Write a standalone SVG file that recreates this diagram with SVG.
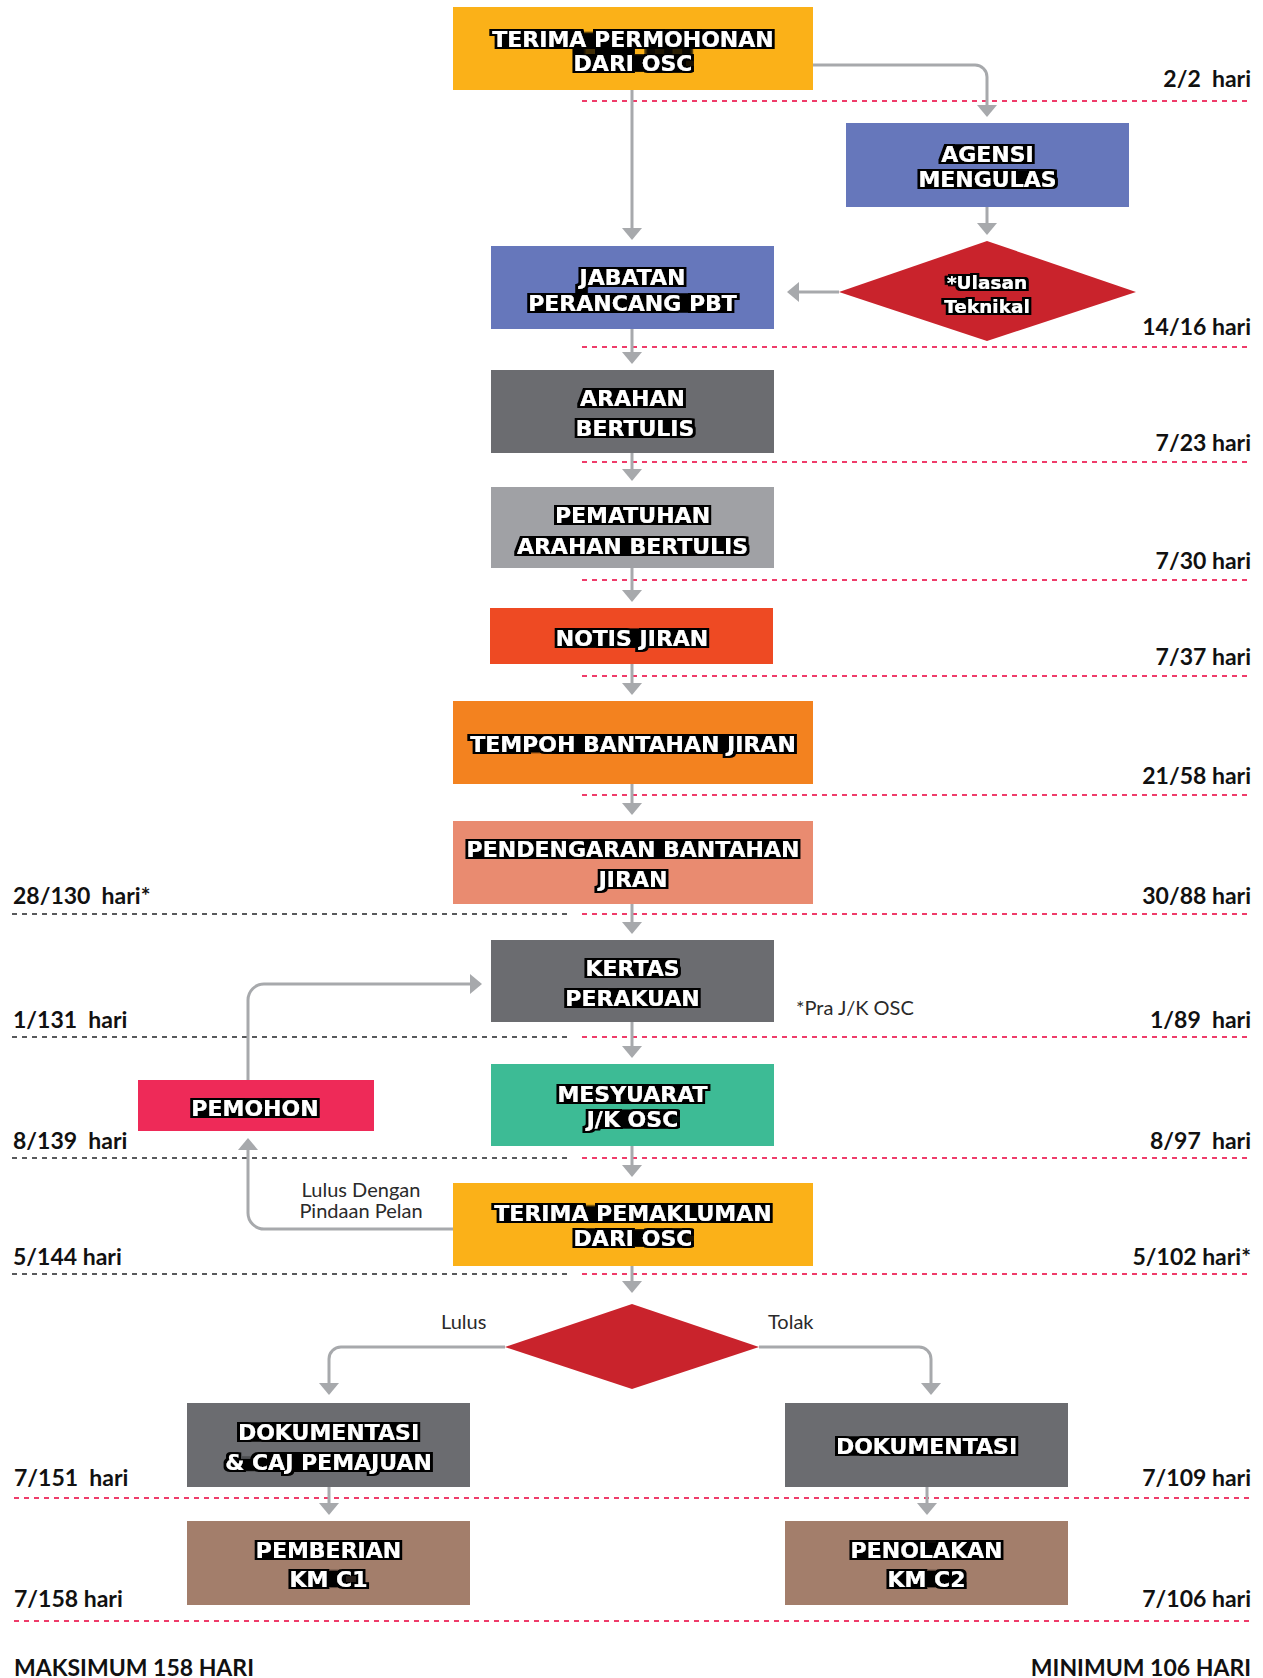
<svg xmlns="http://www.w3.org/2000/svg" width="1263" height="1678" viewBox="0 0 1263 1678">
  <defs>
    <style>
      .box text { font-family: "DejaVu Sans", sans-serif; font-weight: bold; font-size: 22px; fill: #fff; text-anchor: middle; filter: url(#hl); }
      .box text.sm { font-size: 18.5px; }
      .lbl { font-family: Lato, "Liberation Sans", sans-serif; font-weight: 700; font-size: 23px; fill: #111; white-space: pre; }
      .end { text-anchor: end; }
      .note { font-family: Lato, "Liberation Sans", sans-serif; font-weight: 400; font-size: 20px; fill: #2a2a2a; }
      .big { font-size: 23px; }
      .red { stroke: #EF3C6A; stroke-width: 2; stroke-dasharray: 5 5; fill: none; }
      .dark { stroke: #58595B; stroke-width: 2; stroke-dasharray: 5 5; fill: none; }
      .conn { fill: none; stroke: #A7A9AC; stroke-width: 3; marker-end: url(#ah); }
      .yellow { fill: #FBB118; }
      .blue { fill: #6677BB; }
      .crimson { fill: #C9232C; }
      .dgray { fill: #6B6C70; }
      .lgray { fill: #A0A1A5; }
      .vermil { fill: #EE4A23; }
      .orange { fill: #F3821F; }
      .salmon { fill: #E98B70; }
      .pink { fill: #EE2A58; }
      .green { fill: #3DBB95; }
      .brown { fill: #A37E6B; }
    </style>
    <!-- black highlight band behind white label text -->
    <filter id="hl" x="-10%" y="-40%" width="120%" height="180%">
      <feMorphology in="SourceAlpha" operator="dilate" radius="7 4" result="d"/>
      <feMorphology in="d" operator="erode" radius="4 2" result="e"/>
      <feFlood flood-color="#000" result="k"/>
      <feComposite in="k" in2="e" operator="in" result="bg"/>
      <feMerge><feMergeNode in="bg"/><feMergeNode in="SourceGraphic"/></feMerge>
    </filter>
    <marker id="ah" viewBox="0 0 12 20" refX="0" refY="10" markerWidth="12" markerHeight="20" markerUnits="userSpaceOnUse" orient="auto">
      <path d="M0,0 L12,10 L0,20 z" fill="#A7A9AC"/>
    </marker>
  </defs>

  <rect width="1263" height="1678" fill="#fff"/>

  <!-- time rulers -->
  <g id="rulers">
    <path class="red" d="M582,101 H1250 M582,347 H1250 M582,462 H1250 M582,580 H1250 M582,676 H1250 M582,795 H1250 M582,914 H1250 M582,1037 H1250 M582,1158 H1250 M582,1274 H1250"/>
    <path class="dark" d="M12,914 H570 M12,1037 H570 M12,1158 H570 M12,1274 H570"/>
    <path class="red" d="M14,1498 H1250 M14,1621 H1250"/>
  </g>

  <!-- connectors -->
  <g id="connectors">
    <path class="conn" d="M632,90 V228"/>
    <path class="conn" d="M813,65 H975 A12,12 0 0 1 987,77 V105"/>
    <path class="conn" d="M987,207 V223"/>
    <path class="conn" d="M839,292 H799"/>
    <path class="conn" d="M632,329 V352"/>
    <path class="conn" d="M632,453 V469"/>
    <path class="conn" d="M632,568 V590"/>
    <path class="conn" d="M632,664 V683"/>
    <path class="conn" d="M632,784 V803"/>
    <path class="conn" d="M632,904 V922"/>
    <path class="conn" d="M632,1022 V1046"/>
    <path class="conn" d="M632,1146 V1165"/>
    <path class="conn" d="M632,1266 V1281"/>
    <path class="conn" d="M505,1347 H341 A12,12 0 0 0 329,1359 V1383"/>
    <path class="conn" d="M759,1347 H919 A12,12 0 0 1 931,1359 V1383"/>
    <path class="conn" d="M329,1487 V1503"/>
    <path class="conn" d="M927,1487 V1503"/>
    <path class="conn" d="M248,1080 V1000 A16,16 0 0 1 264,984 H470"/>
    <path class="conn" d="M453,1229 H264 A16,16 0 0 1 248,1213 V1150"/>
  </g>

  <!-- process nodes -->
  <g id="terima-permohonan" class="box">
    <rect class="yellow" x="453" y="7" width="360" height="83"/>
    <text x="633"><tspan x="633" y="47">TERIMA PERMOHONAN</tspan><tspan x="633" y="71">DARI OSC</tspan></text>
  </g>
  <g id="agensi-mengulas" class="box">
    <rect class="blue" x="846" y="123" width="283" height="84"/>
    <text x="987.5"><tspan x="987.5" y="162">AGENSI</tspan><tspan x="987.5" y="187">MENGULAS</tspan></text>
  </g>
  <g id="ulasan-teknikal" class="box">
    <polygon class="crimson" points="987,241 1136,292 987,341 839,292"/>
    <text class="sm" x="987"><tspan x="987" y="289">*Ulasan</tspan><tspan x="987" y="313">Teknikal</tspan></text>
  </g>
  <g id="jabatan-perancang" class="box">
    <rect class="blue" x="491" y="246" width="283" height="83"/>
    <text x="632.5"><tspan x="632.5" y="285">JABATAN</tspan><tspan x="632.5" y="311">PERANCANG PBT</tspan></text>
  </g>
  <g id="arahan-bertulis" class="box">
    <rect class="dgray" x="491" y="370" width="283" height="83"/>
    <text x="632.5"><tspan x="632.5" y="406">ARAHAN</tspan><tspan x="635" y="436">BERTULIS</tspan></text>
  </g>
  <g id="pematuhan" class="box">
    <rect class="lgray" x="491" y="487" width="283" height="81"/>
    <text x="632.5"><tspan x="632.5" y="523">PEMATUHAN</tspan><tspan x="632.5" y="554">ARAHAN BERTULIS</tspan></text>
  </g>
  <g id="notis-jiran" class="box">
    <rect class="vermil" x="490" y="608" width="283" height="56"/>
    <text x="632" y="646">NOTIS JIRAN</text>
  </g>
  <g id="tempoh-bantahan" class="box">
    <rect class="orange" x="453" y="701" width="360" height="83"/>
    <text x="633" y="752">TEMPOH BANTAHAN JIRAN</text>
  </g>
  <g id="pendengaran-bantahan" class="box">
    <rect class="salmon" x="453" y="821" width="360" height="83"/>
    <text x="633"><tspan x="633" y="857">PENDENGARAN BANTAHAN</tspan><tspan x="633" y="887">JIRAN</tspan></text>
  </g>
  <g id="kertas-perakuan" class="box">
    <rect class="dgray" x="491" y="940" width="283" height="82"/>
    <text x="632.5"><tspan x="632.5" y="976">KERTAS</tspan><tspan x="632.5" y="1006">PERAKUAN</tspan></text>
  </g>
  <g id="pemohon" class="box">
    <rect class="pink" x="138" y="1080" width="236" height="51"/>
    <text x="255" y="1116">PEMOHON</text>
  </g>
  <g id="mesyuarat" class="box">
    <rect class="green" x="491" y="1064" width="283" height="82"/>
    <text x="632.5"><tspan x="632.5" y="1102">MESYUARAT</tspan><tspan x="632.5" y="1127">J/K OSC</tspan></text>
  </g>
  <g id="terima-pemakluman" class="box">
    <rect class="yellow" x="453" y="1183" width="360" height="83"/>
    <text x="633"><tspan x="633" y="1221">TERIMA PEMAKLUMAN</tspan><tspan x="633" y="1246">DARI OSC</tspan></text>
  </g>
  <g id="keputusan" class="box">
    <polygon class="crimson" points="632,1304 759,1347 632,1389 505,1347"/>
  </g>
  <g id="dokumentasi-caj" class="box">
    <rect class="dgray" x="187" y="1403" width="283" height="84"/>
    <text x="328.5"><tspan x="328.5" y="1440">DOKUMENTASI</tspan><tspan x="328.5" y="1470">&amp; CAJ PEMAJUAN</tspan></text>
  </g>
  <g id="dokumentasi" class="box">
    <rect class="dgray" x="785" y="1403" width="283" height="84"/>
    <text x="926.5" y="1454">DOKUMENTASI</text>
  </g>
  <g id="pemberian-kmc1" class="box">
    <rect class="brown" x="187" y="1521" width="283" height="84"/>
    <text x="328.5"><tspan x="328.5" y="1558">PEMBERIAN</tspan><tspan x="328.5" y="1587">KM C1</tspan></text>
  </g>
  <g id="penolakan-kmc2" class="box">
    <rect class="brown" x="785" y="1521" width="283" height="84"/>
    <text x="926.5"><tspan x="926.5" y="1558">PENOLAKAN</tspan><tspan x="926.5" y="1587">KM C2</tspan></text>
  </g>

  <!-- connector notes -->
  <g id="notes">
    <text class="note" x="361" y="1197" text-anchor="middle">Lulus Dengan</text>
    <text class="note" x="361" y="1218" text-anchor="middle">Pindaan Pelan</text>
    <text class="note" x="441" y="1329">Lulus</text>
    <text class="note" x="768" y="1329">Tolak</text>
    <text class="note" x="796" y="1015" font-size="19">*Pra J/K OSC</text>
  </g>

  <!-- day counts -->
  <g id="days">
    <text class="lbl end" x="1251" y="87">2/2  hari</text>
    <text class="lbl end" x="1251" y="335">14/16 hari</text>
    <text class="lbl end" x="1251" y="451">7/23 hari</text>
    <text class="lbl end" x="1251" y="569">7/30 hari</text>
    <text class="lbl end" x="1251" y="665">7/37 hari</text>
    <text class="lbl end" x="1251" y="784">21/58 hari</text>
    <text class="lbl end" x="1251" y="904">30/88 hari</text>
    <text class="lbl end" x="1251" y="1028">1/89  hari</text>
    <text class="lbl end" x="1251" y="1149">8/97  hari</text>
    <text class="lbl end" x="1251" y="1265">5/102 hari*</text>
    <text class="lbl end" x="1251" y="1486">7/109 hari</text>
    <text class="lbl end" x="1251" y="1607">7/106 hari</text>
    <text class="lbl" x="13" y="904">28/130  hari*</text>
    <text class="lbl" x="13" y="1028">1/131  hari</text>
    <text class="lbl" x="13" y="1149">8/139  hari</text>
    <text class="lbl" x="13" y="1265">5/144 hari</text>
    <text class="lbl" x="14" y="1486">7/151  hari</text>
    <text class="lbl" x="14" y="1607">7/158 hari</text>
    <text class="lbl big" x="14" y="1676">MAKSIMUM 158 HARI</text>
    <text class="lbl big end" x="1251" y="1676">MINIMUM 106 HARI</text>
  </g>
</svg>
